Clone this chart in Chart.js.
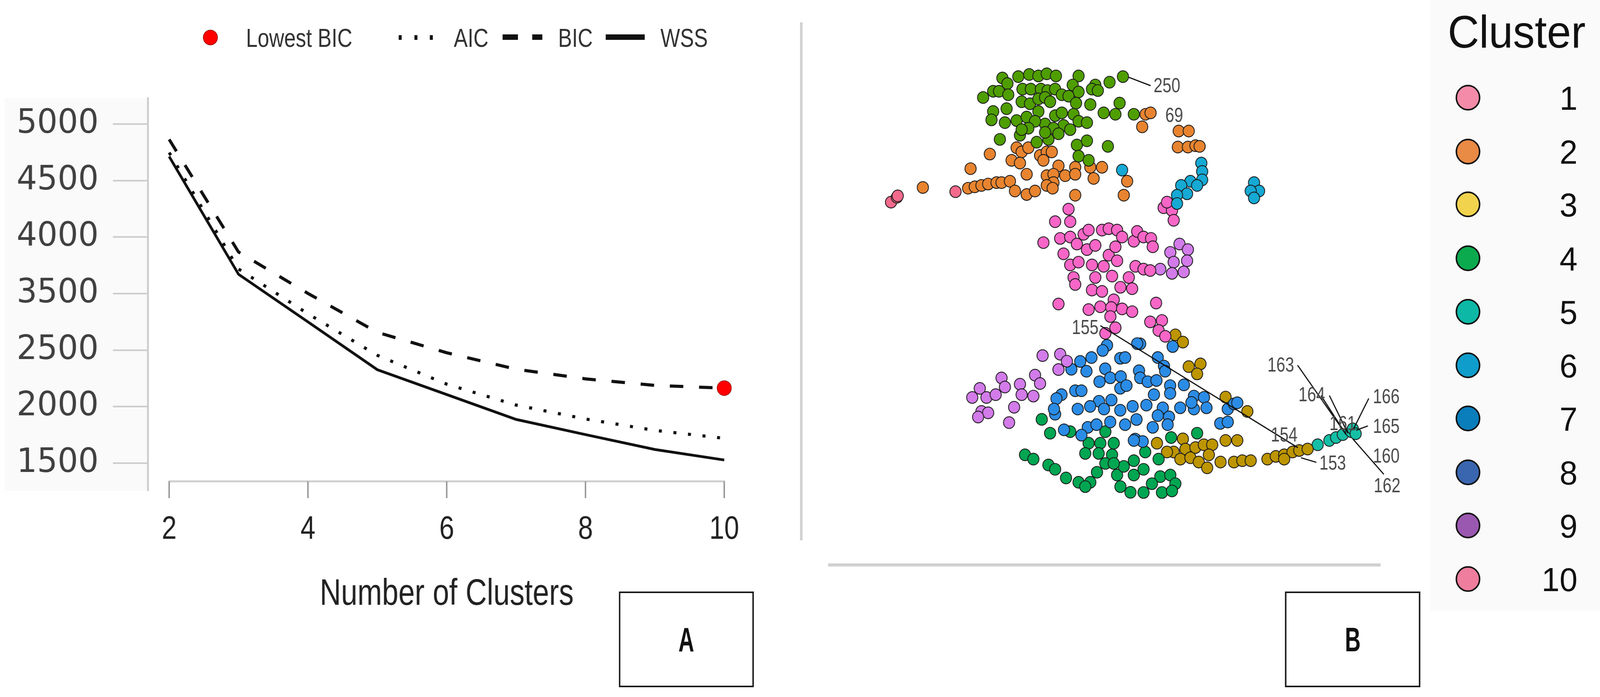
<!DOCTYPE html>
<html>
<head>
<meta charset="utf-8">
<script src="https://cdn.jsdelivr.net/npm/chart.js@4.4.1/dist/chart.umd.min.js"></script>
<style>
  html, body { margin: 0; padding: 0; background: #fff; width: 100%; height: 100%; overflow: hidden; }
  body { font-family: 'Liberation Sans', Arial, sans-serif; }
  #page { position: absolute; left: 0; top: 0; width: 4266px; height: 1784px; transform-origin: 0 0; background: #fff; }
  .abs { position: absolute; }
  .nw { display: inline-block; transform-origin: 0 50%; white-space: nowrap; }
  .legA { font-size: 66px; line-height: 66px; color: #333; }
  .legA .nw { transform: scaleX(0.84); }
  .box { border: 4px solid #1a1a1a; box-sizing: border-box; display: flex; align-items: center; justify-content: center; }
  .box span { display: inline-block; font-weight: bold; font-size: 88px; line-height: 88px; color: #111; transform: scaleX(0.66); }
  .dot { width: 66px; height: 66px; border: 4px solid #111; border-radius: 50%; box-sizing: border-box; }
  .num { width: 200px; text-align: right; font-size: 86px; line-height: 86px; color: #111; }
</style>
</head>
<body>
<div id="page">

<div class="abs" style="left:13px;top:251px;width:381px;height:1005px;background:#fafafa;"></div>
<div class="abs" style="left:0;top:0;"><canvas id="elbowChart" width="2100" height="1784"></canvas></div>

<!-- legend of panel A -->
<svg class="abs" style="left:0;top:0;" width="2100" height="160">
  <circle cx="561" cy="96" r="19" fill="#ff0000" stroke="#8a0000" stroke-width="1.5"/>
  <rect x="1063" y="90" width="8" height="12" fill="#111"/>
  <rect x="1105" y="90" width="8" height="12" fill="#111"/>
  <rect x="1146" y="90" width="8" height="12" fill="#111"/>
  <rect x="1340" y="88" width="41" height="14" fill="#111"/>
  <rect x="1419" y="88" width="27" height="14" fill="#111"/>
  <rect x="1615" y="88" width="104" height="14" fill="#111"/>
</svg>
<div class="abs legA" style="left:656px;top:64px;"><span class="nw">Lowest BIC</span></div>
<div class="abs legA" style="left:1210px;top:64px;"><span class="nw">AIC</span></div>
<div class="abs legA" style="left:1488px;top:64px;"><span class="nw">BIC</span></div>
<div class="abs legA" style="left:1761px;top:64px;"><span class="nw">WSS</span></div>

<div class="abs box" style="left:1650px;top:1514px;width:360px;height:245px;"><span>A</span></div>

<!-- divider between panels -->
<div class="abs" style="left:2133px;top:57px;width:7px;height:1326px;background:#d2d2d2;"></div>

<div class="abs" style="left:2200px;top:100px;"><canvas id="clusterChart" width="1600" height="1260"></canvas></div>
<div class="abs" style="left:2208px;top:1442px;width:1473px;height:8px;background:#d0d0d0;"></div>
<div class="abs box" style="left:3426px;top:1514px;width:361px;height:245px;"><span>B</span></div>

<!-- legend of panel B -->
<div class="abs" style="left:3814px;top:0;width:452px;height:1563px;background:#fafafa;"></div>
<div class="abs" style="left:3860px;top:24px;font-size:116px;line-height:116px;color:#111;white-space:nowrap;">Cluster</div>
<div id="clusterLegend"></div>

</div>

<script>
// ---------- panel A: elbow curves ----------
const clusterCounts = [2, 3, 4, 5, 6, 7, 8, 9, 10];
const wssValues = [4713, 3671, 3000, 2327, 2107, 1887, 1753, 1621, 1528];
const aicValues = [4748, 3718, 3144, 2454, 2199, 2014, 1891, 1790, 1720];
const bicValues = [4864, 3868, 3502, 2815, 2477, 2331, 2246, 2188, 2164];
const yTickLabels = ['1500', '2000', '2500', '3500', '4000', '4500', '5000'];
const xTickValues = [2, 4, 6, 8, 10];
const xTitle = 'Number of Clusters';

// fit the 4266x1784 layout to whatever viewport the page gets
function fitPage() {
  const page = document.getElementById('page');
  const sx = window.innerWidth / 4266;
  const sy = window.innerHeight / 1784;
  page.style.transform = 'scale(' + sx + ',' + sy + ')';
}
fitPage();

// the printed axis skips 3000, so values are placed between the printed labels
const yTickNumbers = yTickLabels.map(Number);
function toAxis(v) {
  const L = yTickNumbers;
  let i = 0;
  while (i < L.length - 2 && v > L[i + 1]) i++;
  return i + (v - L[i]) / (L[i + 1] - L[i]);
}
const asPoints = vals => clusterCounts.map((k, i) => ({ x: k, y: toAxis(vals[i]) }));

const bicMin = Math.min(...bicValues);
const bicMinK = clusterCounts[bicValues.indexOf(bicMin)];

const baseFont = "'Liberation Sans', Arial, sans-serif";

// x axis of panel A sits a little above the plot floor, with condensed labels
const offsetXAxis = {
  id: 'offsetXAxis',
  afterDraw(chart) {
    const { ctx, chartArea } = chart;
    const xs = chart.scales.x;
    const first = xs.getPixelForValue(xTickValues[0]);
    const last = xs.getPixelForValue(xTickValues[xTickValues.length - 1]);
    const y0 = chartArea.bottom - 24;
    ctx.save();
    ctx.strokeStyle = '#cfcfcf';
    ctx.lineWidth = 5;
    ctx.beginPath();
    ctx.moveTo(first - 2, y0);
    ctx.lineTo(last + 2, y0);
    ctx.stroke();
    ctx.strokeStyle = '#9a9a9a';
    ctx.lineWidth = 4;
    xTickValues.forEach(v => {
      const px = xs.getPixelForValue(v);
      ctx.beginPath();
      ctx.moveTo(px, y0);
      ctx.lineTo(px, y0 + 43);
      ctx.stroke();
    });

    ctx.fillStyle = '#222';
    ctx.textAlign = 'center';
    ctx.textBaseline = 'alphabetic';
    ctx.font = '84px ' + baseFont;
    xTickValues.forEach(v => {
      ctx.save();
      ctx.translate(xs.getPixelForValue(v), chartArea.bottom + 123);
      ctx.scale(0.85, 1);
      ctx.fillText(String(v), 0, 0);
      ctx.restore();
    });
    ctx.font = '94px ' + baseFont;
    ctx.translate((first + last) / 2, chartArea.bottom + 292);
    ctx.scale(0.836, 1);
    ctx.fillText(xTitle, 0, 0);
    ctx.restore();
  }
};

new Chart(document.getElementById('elbowChart'), {
  type: 'line',
  data: {
    datasets: [
      { label: 'WSS', data: asPoints(wssValues), borderColor: '#111', borderWidth: 7, pointRadius: 0, fill: false },
      { label: 'AIC', data: asPoints(aicValues), borderColor: '#111', borderWidth: 8, borderDash: [8, 31], pointRadius: 0, fill: false },
      { label: 'BIC', data: asPoints(bicValues), borderColor: '#111', borderWidth: 8, borderDash: [36, 42], pointRadius: 0, fill: false },
      { label: 'Lowest BIC', type: 'scatter', data: [{ x: bicMinK, y: toAxis(bicMin) }],
        pointRadius: 19, pointBackgroundColor: '#ff0000', pointBorderColor: '#8a0000', pointBorderWidth: 1.5 }
    ]
  },
  options: {
    responsive: false,
    animation: false,
    devicePixelRatio: 1,
    layout: { padding: { top: 251, left: 0, right: 140, bottom: 198 } },
    plugins: { legend: { display: false }, tooltip: { enabled: false } },
    scales: {
      x: {
        type: 'linear',
        min: 1.6919,
        max: 10.1568,
        afterBuildTicks: s => { s.ticks = xTickValues.map(v => ({ value: v })); },
        afterFit: s => { s.height = 330; },
        grid: { display: false },
        border: { display: false },
        ticks: { display: false }
      },
      y: {
        type: 'linear',
        min: -0.4874,
        max: 6.4605,
        afterBuildTicks: s => { s.ticks = yTickLabels.map((_, i) => ({ value: i })); },
        afterFit: s => { s.width = 394; },
        grid: { drawOnChartArea: false, drawTicks: true, tickLength: 93, tickColor: '#cbcbcb', tickWidth: 4 },
        border: { display: true, color: '#cdcdcd', width: 5 },
        ticks: {
          color: '#404040',
          padding: 38,
          font: { family: "'DejaVu Sans', sans-serif", size: 86 },
          callback: v => yTickLabels[v]
        }
      }
    }
  },
  plugins: [offsetXAxis]
});

// ---------- panel B: cluster map ----------
const olivePts = [
  [74.5,309],[84,310],[90.5,311.5],[96,310.5],[101,312],[106.5,310.5],[120,310.5],[130,304],[138.5,306],[146.5,310],
  [63,295],[69,299.5],[72.5,299.5],[77.5,305],[78,297],[86.5,301],[91.5,301],[97.5,301],[101.5,300],[106,301],[110,297],
  [116.5,304],[120,299],[128,301],[131.5,300],[69,285],[77,287],[86,292],[91,290.5],[96,294],[100,295],[103,292],[114,296],
  [118.5,291],[127,290],[144.5,291],[135,284],[142,283],[153,283],[68,279],[76,277],[83,278.5],[89,281],[96,285],[100,276],
  [106,282],[110,284],[111,275],[117,283],[120,278],[125,277],[94,278],[90,273],[105,273],[115,272],[73,265],[85,268],
  [95,263],[102,265],[108,269],[119,261],[125,264],[100,270],[86,272],[120,253],[126,250],[137.5,260]
];
const orangePts = [
  [67,254.5],[55.5,244],[27,230.5],[80,250],[83,259],[86,256],[90,259],[85,248],[89,240],[97,253.5],[101,256],[104,256],
  [99,250],[108,246],[101,239],[105,240],[105,234],[112,239],[118,245],[118,240],[127,245],[134,245],[129,237],[118,225],
  [149,235],[147,225],[54,230],[58,231],[62,232],[66,233],[71,234],[74,234],[79,235],[82,228],[89,225.5],[94,228],[101,232],
  [104.5,230],[160,283],[163,284],[158,274],[179.8,271],[185.8,271],[179.3,259.5],[185.3,259.5],[189.8,260.5],[192.3,260]
];
const salmonPts = [[8,220],[11.5,223.5],[12,224.5],[46.5,227.5]];
const cyanPts = [
  [146,243],[193.3,248],[193.8,242],[193.8,236],[186.8,235],[190.8,232],[181.3,232],[184.8,226],[178.8,225],[178.8,219],
  [224.8,234],[227.8,228],[222.8,228],[224.8,223]
];
const pinkPts = [
  [114,215],[106,206],[115,206],[99,191],[109,194],[115,195],[119,190],[123,197],[126,200],[134,200],[138,201],[143,200],
  [146,195],[153,192],[155,199],[111,183],[125,186],[130,189],[138,182],[142,188],[115,175],[120,177],[128,175],[135,174],
  [143,178],[154,174],[117,166],[130,166],[140,167],[150,166],[118,161],[128,157],[134,156],[141,150],[126,143],[133,145],
  [139.5,144.5],[146,143.5],[152,141.5],[139,138],[142,130],[136,126],[108,147],[145,159],[152,158],[170.8,216],[175.8,214],
  [176.8,207],[172.8,220],[158.8,195],[163.3,194],[164.3,188],[158.8,172],[162.8,171],[166.3,147.7],[162.8,134.2],
  [169.8,135.2],[167.8,128],[171.8,123.8]
];
const lilacPts = [
  [98.5,110],[109,111],[113,106],[108,100],[74,94],[61,86.5],[56.5,80],[65,80],[70.5,82],[76,87.5],[85,89.5],[94,96],[97,90],
  [86,82],[93,81],[62,70],[66,69],[60,66],[81.5,73],[78.5,62],[180.3,190],[174.8,184],[185.3,186],[176.8,177],[184.8,178],
  [168.8,172],[175.8,169],[182.8,170]
];
const bluePts = [
  [156.8,118.4],[137,117.4],[134.4,113.7],[144.9,108.1],[147.8,108.6],[167.3,108.6],[121,105.8],[127.7,108.6],[115.7,100.2],
  [124.7,98.8],[135.9,100.6],[132.5,91.3],[138.9,94.1],[145.2,95],[156.1,99.2],[156.8,94.1],[161.3,91.3],[166.5,92.2],
  [171,102.5],[171.7,98.8],[174.7,88.5],[182.9,89],[118,84.8],[121.7,84.8],[132.2,77.3],[139.6,78.2],[144.9,86.6],[148.6,88.5],
  [165,82],[174.7,82.9],[188.9,81],[194.9,80.1],[109.8,82],[106.8,79.2],[106,68],[119.5,71.7],[126.9,73.6],[135.2,71.7],
  [144.9,70.8],[152.3,73.6],[160.5,74.5],[170.3,72.6],[180.7,72.6],[188.9,71.7],[196.4,72.6],[187.4,76.4],[111.3,56.8],
  [125.5,58.6],[130.7,60.5],[138.9,62.4],[147.8,60.5],[154.6,64.2],[167.3,67],[174,66.1],[164.3,58.6],[173.2,60.5],[153.8,50.2],
  [158.3,48.4],[204.6,61.4],[209.1,62.4],[209.1,71.7],[212.8,75.4],[176.2,116.5],[121.7,53],[105.3,71.7],[155,118.6],
  [153,49.2],[214.8,76.2]
];
const greenPts = [
  [98,64.3],[103,54.4],[115,55.5],[136,55.5],[126,47.2],[133,47.2],[141,47.2],[124,39.9],[132,39.9],[140,38.9],[88,38.9],
  [93,35.8],[102,31.6],[106,28.5],[112.5,22.3],[120,19.2],[127,19.2],[124,16.1],[131,26.4],[136,32.7],[143,24.4],[147,30.6],
  [153,34.7],[145,16.1],[151,12],[153,24.4],[141,32.7],[175.3,51.3],[190.8,54.4],[159.8,40.9],[167.8,35.8],[158.8,28.5],
  [168.8,23.3],[174.8,24.4],[177.8,18.2],[169.8,11.9],[158.8,11.9],[175.8,13],[163.8,18.2]
];
const goldPts = [
  [177.8,124.9],[182.3,119.7],[185.8,102.1],[192.8,104.1],[190.8,96.9],[207.8,80.3],[220.8,70],[166.8,47.2],[176.8,40.9],
  [182.3,50.3],[183.8,43],[189.8,44.1],[194.8,46.1],[199.8,46.1],[180.8,35.8],[186.8,36.8],[191.8,33.7],[196.8,29.6],
  [197.8,38.9],[204.8,33.7],[212.8,33.7],[217.8,34.7],[222.8,34.7],[207.8,49.2],[214.8,49.2],[172.8,40.9],[232.8,35.8],
  [237.8,37.8],[242.8,38.9],[247.8,40.9],[251.8,42],[256.8,43],[242.8,35.8]
];
const tealPts = [[262.8,46.1],[269.8,49.2],[273.8,51.3],[277.8,53.4],[282.8,55.5],[283.8,57.5],[285.5,54]];

const groupPoints = [olivePts, orangePts, salmonPts, cyanPts, pinkPts, lilacPts, bluePts, greenPts, goldPts, tealPts];
const groupColors = ['#4f9e00', '#e8842f', '#f46a8c', '#16a9d4', '#f766c7', '#d27be9', '#2b8ce6', '#00a651', '#bd9500', '#15bfa5'];

const pointLabels = ['250', '69', '155', '154', '153', '163', '164', '161', '166', '165', '160', '162'];
const pointLabelX = [164.8, 171.8, 116, 234.8, 263.8, 232.8, 251.3, 269.8, 295.8, 295.8, 295.8, 296.3];
const pointLabelY = [303.8, 282.5, 130.6, 53.4, 33.2, 103.6, 82.4, 61.7, 80.8, 59.6, 38.4, 17.1];
const leaderLines = [
  [150, 309.5, 163, 303.5],
  [133, 131.5, 251, 44],
  [252.8, 36.8, 262, 33.5],
  [250.8, 103.1, 279.8, 53.4],
  [264.8, 81.4, 279.8, 53.4],
  [269.8, 81.4, 280.8, 54.4],
  [293.3, 79.3, 283.8, 56.5],
  [292.8, 59.6, 285.8, 56.5],
  [283.8, 50.3, 302.3, 24.9]
];

const clusterLabels = ['1', '2', '3', '4', '5', '6', '7', '8', '9', '10'];
const legendColors = ['#f48ba9', '#e98a45', '#f1d34e', '#0caa4e', '#0db8a6', '#0f9dcb', '#0a7dbb', '#3a66b0', '#9b58b0', '#ee7d9e'];

const pointAnnotations = {
  id: 'pointAnnotations',
  afterDatasetsDraw(chart) {
    const { ctx } = chart;
    const xs = chart.scales.x, ys = chart.scales.y;
    ctx.save();
    ctx.strokeStyle = '#111';
    ctx.lineWidth = 3;
    leaderLines.forEach(([x1, y1, x2, y2]) => {
      ctx.beginPath();
      ctx.moveTo(xs.getPixelForValue(x1), ys.getPixelForValue(y1));
      ctx.lineTo(xs.getPixelForValue(x2), ys.getPixelForValue(y2));
      ctx.stroke();
    });
    ctx.fillStyle = '#4a4a4a';
    ctx.font = '52px ' + baseFont;
    ctx.textAlign = 'left';
    ctx.textBaseline = 'alphabetic';
    pointLabels.forEach((t, i) => {
      ctx.save();
      ctx.translate(xs.getPixelForValue(pointLabelX[i]), ys.getPixelForValue(pointLabelY[i]) + 18);
      ctx.scale(0.82, 1);
      ctx.fillText(t, 0, 0);
      ctx.restore();
    });
    ctx.restore();
  }
};

new Chart(document.getElementById('clusterChart'), {
  type: 'scatter',
  data: {
    datasets: groupPoints.map((pts, i) => ({
      data: pts.map(([x, y]) => ({ x, y })),
      backgroundColor: groupColors[i],
      borderColor: '#1a1a1a',
      borderWidth: 2.2,
      pointRadius: 15,
      clip: false
    }))
  },
  options: {
    responsive: false,
    animation: false,
    devicePixelRatio: 1,
    layout: { padding: { left: 140, top: 60, right: 60, bottom: 57 } },
    plugins: { legend: { display: false }, tooltip: { enabled: false } },
    scales: {
      x: { display: false, min: 0, max: 313.6 },
      y: { display: false, min: 0, max: 320.1 }
    }
  },
  plugins: [pointAnnotations]
});

// cluster legend on the right
const legendRows = [250, 388, 523, 661, 798, 935, 1071, 1209, 1345, 1482];
const legendBox = document.getElementById('clusterLegend');
clusterLabels.forEach((lab, i) => {
  const cy = legendRows[i];
  const d = document.createElement('div');
  d.className = 'abs dot';
  d.style.left = (3914 - 33) + 'px';
  d.style.top = (cy - 33) + 'px';
  d.style.background = legendColors[i];
  legendBox.appendChild(d);
  const t = document.createElement('div');
  t.className = 'abs num';
  t.style.left = (4206 - 200) + 'px';
  t.style.top = (cy - 42) + 'px';
  t.textContent = lab;
  legendBox.appendChild(t);
});
window.addEventListener('resize', fitPage);
</script>
</body>
</html>
